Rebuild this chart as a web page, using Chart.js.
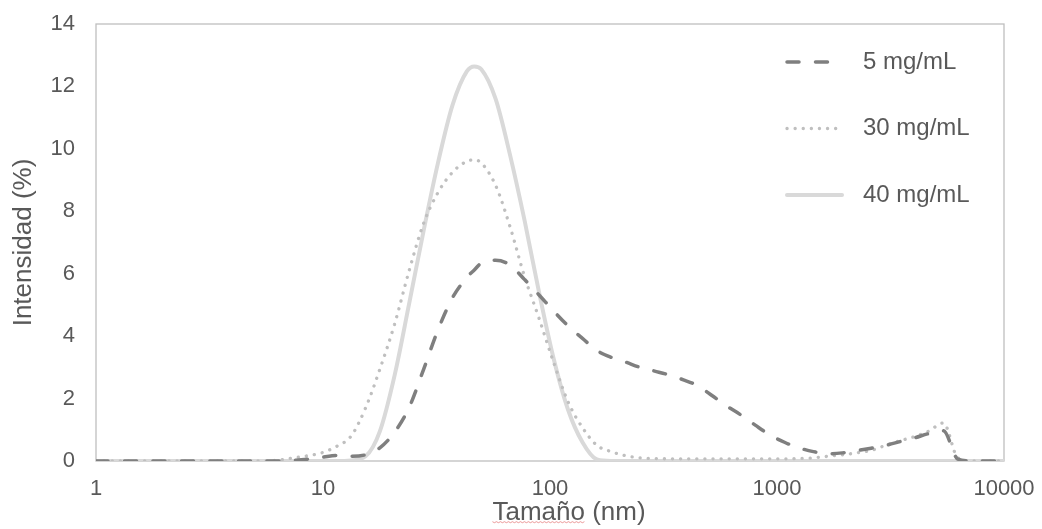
<!DOCTYPE html>
<html>
<head>
<meta charset="utf-8">
<script src="https://cdn.jsdelivr.net/npm/chart.js@4.4.1/dist/chart.umd.min.js"></script>
<style>
  html, body { margin: 0; padding: 0; background: #fff; }
</style>
</head>
<body>
<canvas id="chart" width="1042" height="529"></canvas>
<script>
// size bins (nm) and intensity (%) per concentration
const sizes = [1, 2.30, 4.13, 5.53, 6.40, 7.42, 8.59, 9.95, 11.5, 13.3, 15.4, 17.8,
  20.7, 23.9, 27.7, 32.1, 37.2, 43.0, 46.4, 49.8, 57.6, 66.7, 77.3, 89.5, 103.6,
  120, 139, 161, 186, 215, 249, 289, 334, 387, 448, 519, 601,
  695, 805, 933, 1079, 1250, 1447, 1675, 1940, 2245, 2599, 3009, 3484,
  4034, 4671, 5407, 6262, 7252, 8397, 10000];

const int5mg = [0, 0, 0, 0, 0, 0.02, 0.06, 0.12, 0.18, 0.15, 0.2, 0.42,
  0.93, 1.7, 2.92, 4.2, 5.23, 5.88, 6.12, 6.34, 6.43, 6.28, 5.81, 5.32, 4.81,
  4.33, 3.93, 3.54, 3.32, 3.17, 3.0, 2.88, 2.76, 2.6, 2.41, 2.09, 1.76,
  1.47, 1.14, 0.83, 0.6, 0.42, 0.3, 0.23, 0.26, 0.33, 0.41, 0.5, 0.62,
  0.74, 0.88, 0.97, 0.06, 0, 0, 0];

const int30mg = [0, 0, 0, 0, 0.03, 0.1, 0.17, 0.27, 0.47, 0.8, 1.7, 2.94,
  4.4, 6.07, 7.6, 8.6, 9.25, 9.6, 9.65, 9.55, 8.83, 7.5, 5.9, 4.57, 3.17,
  1.9, 1.07, 0.5, 0.3, 0.17, 0.1, 0.08, 0.07, 0.07, 0.07, 0.07, 0.07,
  0.07, 0.07, 0.07, 0.07, 0.08, 0.1, 0.15, 0.2, 0.26, 0.34, 0.5, 0.65,
  0.78, 0.96, 1.22, 0.1, 0, 0, 0];

const int40mg = [0, 0, 0, 0, 0, 0, 0, 0, 0, 0.02, 0.15, 0.95,
  2.76, 5.0, 7.35, 9.55, 11.4, 12.48, 12.64, 12.55, 11.6, 9.8, 7.7, 5.4, 3.3,
  1.65, 0.6, 0.05, 0, 0, 0, 0, 0, 0, 0, 0, 0,
  0, 0, 0, 0, 0, 0, 0, 0, 0, 0, 0, 0,
  0, 0, 0, 0, 0, 0, 0];

const xTicks = [1, 10, 100, 1000, 10000];
const seriesLabels = ['5 mg/mL', '30 mg/mL', '40 mg/mL'];
const xTitle = 'Tamaño (nm)';
const yTitle = 'Intensidad (%)';

const FONT = "'Liberation Sans', Arial, sans-serif";
const TEXT = '#595959';

function toPoints(values) {
  return sizes.map((s, i) => ({ x: s, y: values[i] }));
}

// light grey frame around the plot area
const plotFrame = {
  id: 'plotFrame',
  beforeDatasetsDraw(chart) {
    const { ctx, chartArea: a } = chart;
    ctx.save();
    ctx.strokeStyle = '#bfbfbf';
    ctx.lineWidth = 1.3;
    ctx.strokeRect(a.left, a.top, a.right - a.left, a.bottom - a.top);
    ctx.restore();
  }
};

// legend stacked inside the plot, top right
const insideLegend = {
  id: 'insideLegend',
  afterDatasetsDraw(chart, args, opts) {
    const ctx = chart.ctx;
    chart.data.datasets.forEach((ds, i) => {
      const y = opts.top + i * opts.rowGap;
      ctx.save();
      ctx.strokeStyle = ds.borderColor;
      ctx.lineWidth = ds.borderWidth;
      ctx.lineCap = ds.borderCapStyle || 'butt';
      ctx.setLineDash(ds.borderDash || []);
      ctx.beginPath();
      ctx.moveTo(opts.x, y);
      ctx.lineTo(opts.x + opts.sample, y);
      ctx.stroke();
      ctx.setLineDash([]);
      ctx.fillStyle = TEXT;
      ctx.font = `24px ${FONT}`;
      ctx.textBaseline = 'middle';
      ctx.fillText(ds.label, opts.x + opts.sample + opts.gap, y);
      ctx.restore();
    });
  }
};

// x axis title sits a little right of centre, with the spell-check squiggle
const xAxisTitle = {
  id: 'xAxisTitle',
  afterDraw(chart, args, opts) {
    const ctx = chart.ctx;
    ctx.save();
    ctx.font = `26px ${FONT}`;
    ctx.fillStyle = TEXT;
    ctx.textAlign = 'center';
    ctx.textBaseline = 'middle';
    ctx.fillText(opts.text, opts.x, opts.y);
    const full = ctx.measureText(opts.text).width;
    const word = ctx.measureText(opts.text.split(' ')[0]).width;
    const x0 = opts.x - full / 2;
    ctx.strokeStyle = 'rgba(226, 110, 110, 0.7)';
    ctx.lineWidth = 1;
    ctx.beginPath();
    for (let x = 0; x <= word; x += 2) {
      const yy = opts.y + 9 + ((x / 2) % 2 ? 0.7 : -0.3);
      if (x === 0) ctx.moveTo(x0 + x, yy); else ctx.lineTo(x0 + x, yy);
    }
    ctx.stroke();
    ctx.restore();
  }
};

const baseLine = {
  pointRadius: 0,
  pointHoverRadius: 0,
  fill: false,
  cubicInterpolationMode: 'monotone'
};

new Chart(document.getElementById('chart'), {
  type: 'line',
  data: {
    datasets: [
      Object.assign({}, baseLine, {
        label: seriesLabels[0],
        data: toPoints(int5mg),
        borderColor: '#7f7f7f',
        borderWidth: 3.5,
        borderDash: [12, 16.5],
        borderCapStyle: 'round'
      }),
      Object.assign({}, baseLine, {
        label: seriesLabels[1],
        data: toPoints(int30mg),
        borderColor: '#bfbfbf',
        borderWidth: 3.3,
        borderDash: [0.1, 8],
        borderCapStyle: 'round'
      }),
      Object.assign({}, baseLine, {
        label: seriesLabels[2],
        data: toPoints(int40mg),
        borderColor: '#d9d9d9',
        borderWidth: 4,
        borderCapStyle: 'round'
      })
    ]
  },
  options: {
    responsive: false,
    animation: false,
    devicePixelRatio: 1,
    layout: { padding: { left: 0, right: 38, top: 24, bottom: 0 } },
    plugins: {
      legend: { display: false },
      tooltip: { enabled: false },
      insideLegend: { x: 787, sample: 55, gap: 21, top: 62, rowGap: 66.5 },
      xAxisTitle: { text: xTitle, x: 569, y: 513 }
    },
    scales: {
      x: {
        type: 'logarithmic',
        min: 1,
        max: 10000,
        grid: { display: false, drawTicks: false },
        border: { display: false },
        afterBuildTicks(scale) {
          scale.ticks = xTicks.map(v => ({ value: v, major: true }));
        },
        afterFit(scale) {
          // fixed band; label overhang is covered by the layout padding
          scale.height = 68;
          scale.paddingLeft = 0;
          scale.paddingRight = 0;
        },
        ticks: {
          autoSkip: false,
          maxRotation: 0,
          padding: 15,
          color: TEXT,
          font: { family: FONT, size: 22 },
          callback: v => String(v)
        }
      },
      y: {
        min: 0,
        max: 14,
        grid: { display: false, drawTicks: false },
        border: { display: false },
        afterFit(scale) {
          scale.width = 96;
          scale.paddingTop = 0;
          scale.paddingBottom = 0;
        },
        ticks: {
          stepSize: 2,
          padding: 21,
          color: TEXT,
          font: { family: FONT, size: 22 }
        },
        title: {
          display: true,
          text: yTitle,
          color: TEXT,
          font: { family: FONT, size: 26 },
          padding: { top: 8, bottom: 0 }
        }
      }
    }
  },
  plugins: [plotFrame, insideLegend, xAxisTitle]
});
</script>
</body>
</html>
